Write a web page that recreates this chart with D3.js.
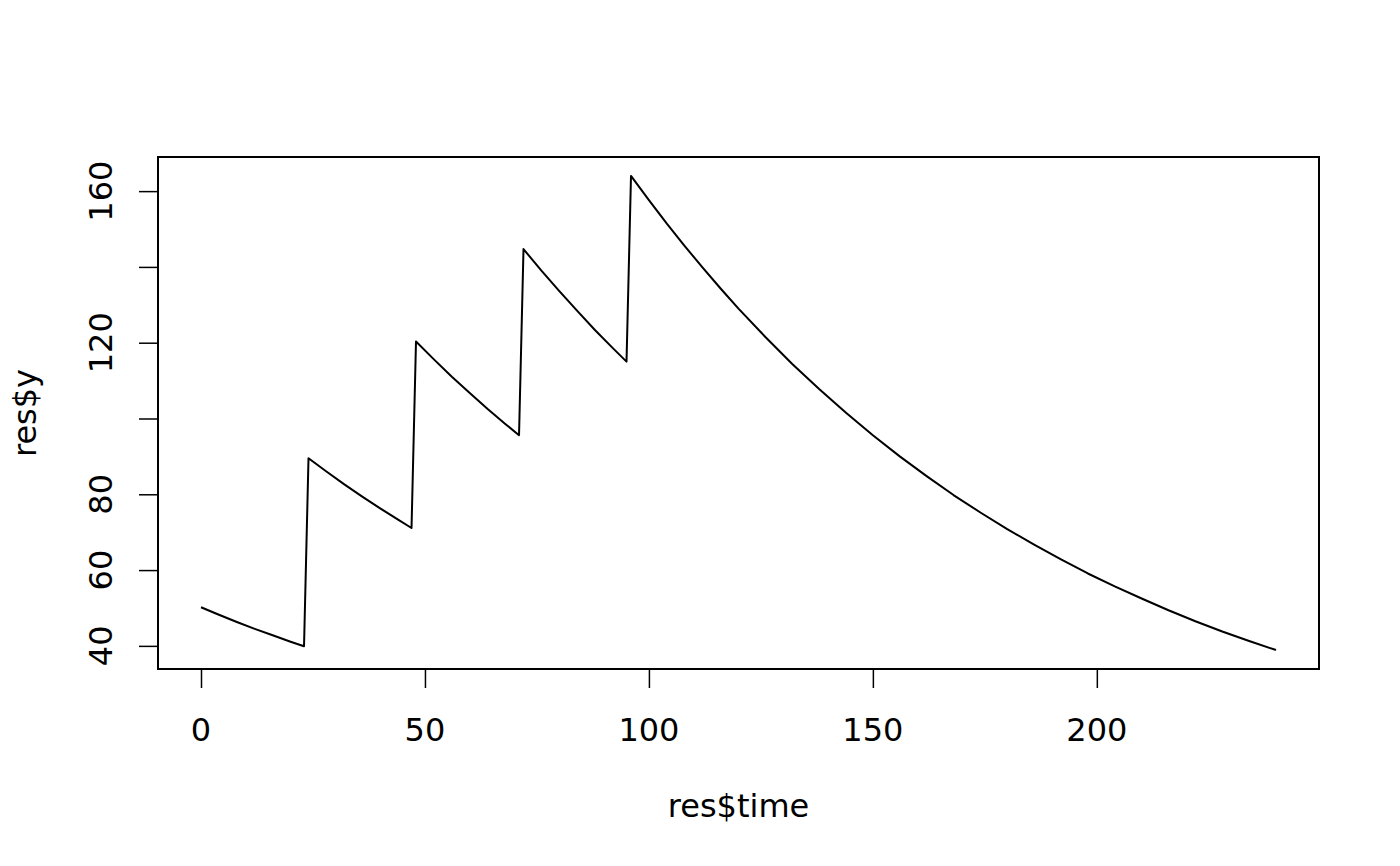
<!DOCTYPE html>
<html>
<head>
<meta charset="utf-8">
<script src="https://cdn.jsdelivr.net/npm/d3@7"></script>
<style>
  html, body { margin: 0; padding: 0; background: #fff; }
  svg { display: block; }
  text { font-family: "DejaVu Sans", sans-serif; fill: #000; }
</style>
</head>
<body>
<svg id="chart" width="1400" height="866"></svg>
<script>
// ---- data ----
const time = [
  0, 4, 8, 12, 16, 20, 23,
  24, 28, 32, 36, 40, 44, 47,
  48, 52, 56, 60, 64, 68, 71,
  72, 76, 80, 84, 88, 92, 95,
  96, 100, 104, 108, 112, 116, 120, 126, 132, 138, 144, 150, 156, 162,
  168, 174, 180, 186, 192, 198, 204, 210, 216, 222, 228, 234, 240
];
const yValues = [
  50.2, 48.2, 46.3, 44.5, 42.8, 41.1, 39.9,
  89.5, 86.0, 82.6, 79.4, 76.3, 73.3, 71.1,
  120.3, 115.6, 111.0, 106.7, 102.5, 98.5, 95.6,
  144.7, 139.0, 133.6, 128.4, 123.3, 118.5, 115.0,
  164.0, 157.6, 151.4, 145.5, 139.8, 134.3, 129.0, 121.5, 114.4, 107.8, 101.5, 95.6, 90.0, 84.8,
  79.8, 75.2, 70.8, 66.7, 62.8, 59.1, 55.7, 52.5, 49.4, 46.5, 43.8, 41.3, 38.9
];
const xTicks = [0, 50, 100, 150, 200];
const xTickLabels = ["0", "50", "100", "150", "200"];
const yTicks = [40, 60, 80, 100, 120, 140, 160];
const yTickLabels = ["40", "60", "80", "", "120", "", "160"];
const xTitle = "res$time";
const yTitle = "res$y";

// ---- layout ----
const svg = d3.select("#chart");
const L = 158, R = 1319, T = 157, B = 669;
const tickLen = 19;
const fontSize = 32;

function padExtent(ext) {
  const d = (ext[1] - ext[0]) * 0.04;
  return [ext[0] - d, ext[1] + d];
}
const x = d3.scaleLinear().domain(padExtent(d3.extent(time))).range([L, R]);
const y = d3.scaleLinear().domain(padExtent(d3.extent(yValues))).range([B, T]);

const pts = time.map((t, i) => [t, yValues[i]]);

// line
svg.append("path")
  .datum(pts)
  .attr("fill", "none")
  .attr("stroke", "#000")
  .attr("stroke-width", 2)
  .attr("stroke-linejoin", "round")
  .attr("d", d3.line().x(d => x(d[0])).y(d => y(d[1])));

// box
svg.append("rect")
  .attr("x", L).attr("y", T)
  .attr("width", R - L).attr("height", B - T)
  .attr("fill", "none").attr("stroke", "#000").attr("stroke-width", 2);

// x axis
const xAxis = svg.append("g")
  .attr("transform", `translate(0,${B})`)
  .call(d3.axisBottom(x).tickValues(xTicks).tickSize(tickLen).tickFormat(""));
xAxis.select(".domain").remove();
xAxis.selectAll(".tick line").attr("stroke", "#000").attr("stroke-width", 1.5);

svg.append("g").selectAll("text")
  .data(xTicks)
  .join("text")
  .attr("x", d => x(d))
  .attr("y", 741)
  .attr("text-anchor", "middle")
  .attr("font-size", fontSize)
  .text((d, i) => xTickLabels[i]);

// y axis
const yAxis = svg.append("g")
  .attr("transform", `translate(${L},0)`)
  .call(d3.axisLeft(y).tickValues(yTicks).tickSize(tickLen).tickFormat(""));
yAxis.select(".domain").remove();
yAxis.selectAll(".tick line").attr("stroke", "#000").attr("stroke-width", 1.5);

svg.append("g").selectAll("text")
  .data(yTicks)
  .join("text")
  .attr("transform", d => `translate(112,${y(d)}) rotate(-90)`)
  .attr("text-anchor", "middle")
  .attr("font-size", fontSize)
  .text((d, i) => yTickLabels[i]);

// titles
svg.append("text")
  .attr("x", (L + R) / 2)
  .attr("y", 817)
  .attr("text-anchor", "middle")
  .attr("font-size", fontSize)
  .text(xTitle);

svg.append("text")
  .attr("transform", `translate(36,${(T + B) / 2}) rotate(-90)`)
  .attr("text-anchor", "middle")
  .attr("font-size", fontSize)
  .text(yTitle);
</script>
</body>
</html>
